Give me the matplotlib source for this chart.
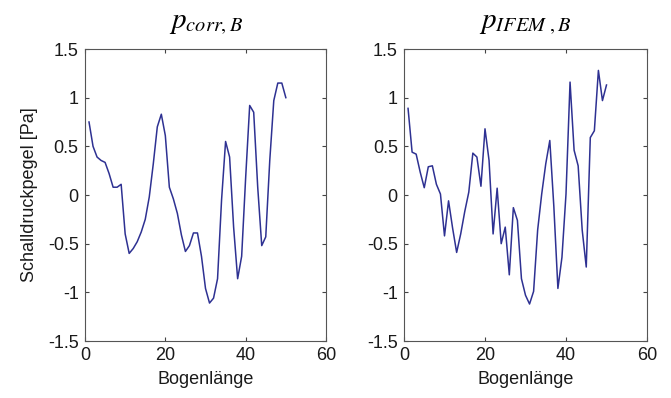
import matplotlib
matplotlib.use("Agg")
import matplotlib.pyplot as plt

# arc length positions (1..50)
bogen = list(range(1, 51))

p_corr = [0.75, 0.50, 0.39, 0.355, 0.335, 0.22, 0.08, 0.08, 0.11, -0.40,
          -0.60, -0.55, -0.48, -0.38, -0.25, -0.02, 0.32, 0.70, 0.83, 0.61,
          0.08, -0.04, -0.19, -0.41, -0.58, -0.52, -0.39, -0.39, -0.63, -0.96,
          -1.11, -1.06, -0.86, -0.05, 0.55, 0.39, -0.33, -0.86, -0.63, 0.18,
          0.92, 0.85, 0.08, -0.52, -0.43, 0.355, 0.97, 1.15, 1.15, 1.00]

p_ifem = [0.89, 0.44, 0.42, 0.235, 0.075, 0.29, 0.30, 0.11, 0.01, -0.42,
          -0.06, -0.34, -0.59, -0.40, -0.17, 0.03, 0.43, 0.39, 0.09, 0.68,
          0.355, -0.40, 0.07, -0.50, -0.33, -0.82, -0.13, -0.26, -0.86, -1.03,
          -1.12, -0.99, -0.36, 0.01, 0.32, 0.56, -0.12, -0.96, -0.64, 0.01,
          1.16, 0.46, 0.30, -0.36, -0.74, 0.59, 0.66, 1.28, 0.97, 1.13]

titles = [r'$p_{corr,B}$', r'$p_{IFEM\ ,B}$']
xticks = [0, 20, 40, 60]
yticks = [-1.5, -1, -0.5, 0, 0.5, 1, 1.5]
ytick_labels = ['-1.5', '-1', '-0.5', '0', '0.5', '1', '1.5']

plt.rcParams['font.family'] = ['Liberation Sans', 'DejaVu Sans']
plt.rcParams['mathtext.fontset'] = 'stix'

fig = plt.figure(figsize=(6.71, 3.98), dpi=100)
W, H = 671.0, 398.0
# axes boxes measured in pixels from the reference
ax1 = fig.add_axes([85 / W, 1 - 341 / H, 241 / W, 292 / H])
ax2 = fig.add_axes([404 / W, 1 - 341 / H, 243 / W, 292 / H])

for ax, data, title in zip([ax1, ax2], [p_corr, p_ifem], titles):
    ax.plot(bogen, data, color='#2e3192', linewidth=1.1)
    ax.set_xlim(0, 60)
    ax.set_ylim(-1.5, 1.5)
    ax.set_xticks(xticks)
    ax.set_yticks(yticks)
    ax.set_yticklabels(ytick_labels)
    ax.tick_params(direction='in', length=3, width=0.8, labelsize=13,
                   top=True, right=True, colors='#444444')
    ax.tick_params(labelcolor='#1a1a1a')
    ax.tick_params(axis='x', pad=4)
    ax.tick_params(axis='y', pad=4.5)
    for s in ax.spines.values():
        s.set_color('#555555')
        s.set_linewidth(0.8)
    ax.set_xlabel('Bogenlänge', fontsize=13, color='#1a1a1a', labelpad=5)
    ax.set_title(title, fontsize=21, pad=15)

ax1.set_ylabel('Schalldruckpegel [Pa]', fontsize=13, color='#1a1a1a', labelpad=7)

fig.savefig('out.png', dpi=100)
